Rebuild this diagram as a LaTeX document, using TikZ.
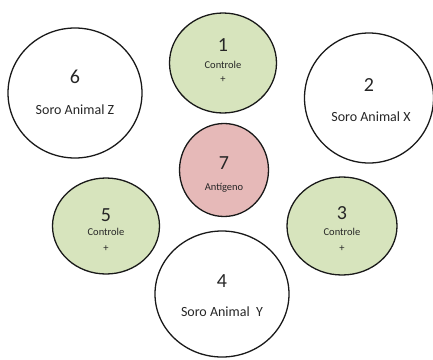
\documentclass[tikz,border=0pt]{standalone}
\usepackage{fontspec}
\setmainfont{Carlito}
\usepackage{tikz}
\usetikzlibrary{shapes.geometric,calc}

\definecolor{ctrlgreen}{HTML}{D7E4BD}
\definecolor{antired}{HTML}{E6B9B8}
\definecolor{txtgray}{HTML}{262626}

\begin{document}
\begin{tikzpicture}[x=1pt,y=-1pt,line width=1.3pt]

%Define styles for the wells
\tikzset{
  well/.style={ellipse,draw=black!90,inner sep=0pt},
  num/.style={font=\fontsize{20}{20}\selectfont,text=txtgray},
  lbl/.style={font=\fontsize{14}{14}\selectfont,text=txtgray},
  small/.style={font=\fontsize{10.5}{10.5}\selectfont,text=txtgray}
}

\useasboundingbox (0,0) rectangle (433,359);

% Wells: serum (white), controls (green), antigen (red)
\node[well,minimum width=134pt,minimum height=130pt] (w6) at (75,93) {};
\node[well,fill=ctrlgreen,minimum width=107pt,minimum height=100pt] (w1) at (223,63) {};
\node[well,minimum width=129pt,minimum height=130pt] (w2) at (369,98) {};
\node[well,fill=antired,minimum width=89pt,minimum height=93pt] (w7) at (224,170) {};
\node[well,fill=ctrlgreen,minimum width=107pt,minimum height=96pt] (w5) at (106,226) {};
\node[well,fill=ctrlgreen,minimum width=110pt,minimum height=98pt] (w3) at (342,226) {};
\node[well,minimum width=134pt,minimum height=126pt] (w4) at (222,294) {};

% Labels inside the wells
\node[num] (n6) at ($(w6)+(0,-16)$) {6};
\node[lbl] (l6) at ($(w6)+(0,17)$) {Soro Animal Z};

\node[num] (n1) at ($(w1)+(0,-18)$) {1};
\node[small] (c1) at ($(w1)+(0,2)$) {Controle};
\node[small] (p1) at ($(w1)+(0,17)$) {+};

\node[num] (n2) at ($(w2)+(0,-13)$) {2};
\node[lbl] (l2) at ($(w2)+(2,19)$) {Soro Animal X};

\node[num] (n7) at ($(w7)+(0,-7)$) {7};
\node[small] (l7) at ($(w7)+(0,18)$) {Antígeno};

\node[num] (n5) at ($(w5)+(0,-11)$) {5};
\node[small] (c5) at ($(w5)+(0,6)$) {Controle};
\node[small] (p5) at ($(w5)+(0,23)$) {+};

\node[num] (n3) at ($(w3)+(0,-13)$) {3};
\node[small] (c3) at ($(w3)+(0,6)$) {Controle};
\node[small] (p3) at ($(w3)+(0,23)$) {+};

\node[num] (n4) at ($(w4)+(0,-13)$) {4};
\node[lbl] (l4) at ($(w4)+(0,18)$) {Soro Animal\ \ Y};

\end{tikzpicture}
\end{document}
